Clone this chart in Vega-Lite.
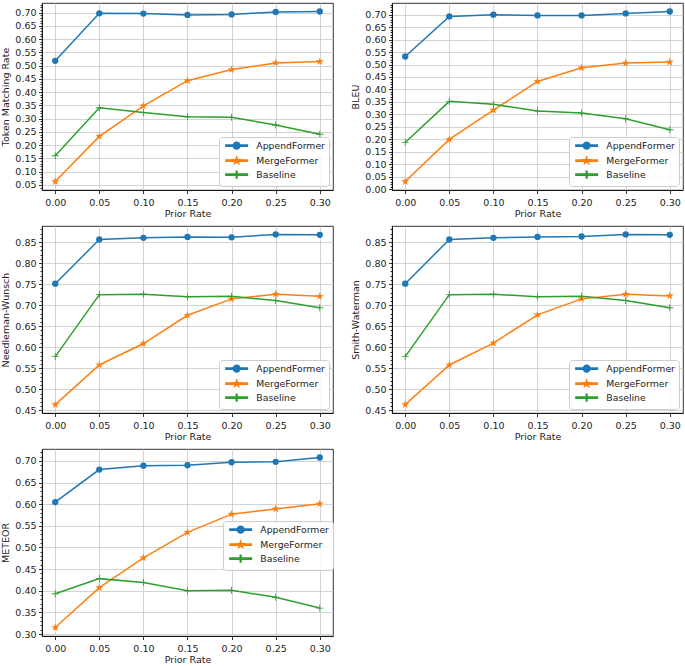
{
  "$schema": "https://vega.github.io/schema/vega-lite/v6.json",
  "padding": {"left": 0, "top": 2, "right": 0, "bottom": 0},
  "background": "white",
  "columns": 2,
  "spacing": {"row": 7, "column": 16},
  "config": {
    "font": "DejaVu Sans",
    "view": {"stroke": "#000", "strokeWidth": 0.8},
    "axis": {
      "labelFont": "DejaVu Sans", "labelFontSize": 9.5, "labelColor": "#222",
      "titleFont": "DejaVu Sans", "titleFontSize": 9.5, "titleFontWeight": "normal", "titleColor": "#222",
      "domainColor": "#000", "domainWidth": 0.8, "tickColor": "#000", "tickWidth": 0.8, "tickSize": 3.5,
      "gridColor": "#c8c8c8", "gridWidth": 0.8
    },
    "axisX": {"titlePadding": 1.5, "labelPadding": 3.5},
    "axisY": {"titlePadding": 4, "labelPadding": 2.5},
    "legend": {
      "orient": "bottom-right", "offset": 4, "title": null,
      "strokeColor": "#cccccc", "fillColor": "rgba(255,255,255,0.85)", "cornerRadius": 3,
      "padding": 4, "labelFont": "DejaVu Sans", "labelFontSize": 9.3, "labelColor": "#222",
      "symbolSize": 45, "rowPadding": 1, "symbolOffset": 9, "labelOffset": 15
    }
  },
  "resolve": {
    "scale": {"y": "independent", "color": "independent"},
    "axis": {"y": "independent", "x": "independent"},
    "legend": {"color": "independent"}
  },
  "data": {"values": [
    {"m": "Token Matching Rate", "s": "AppendFormer", "x": 0.00, "v": 0.518},
    {"m": "Token Matching Rate", "s": "AppendFormer", "x": 0.05, "v": 0.697},
    {"m": "Token Matching Rate", "s": "AppendFormer", "x": 0.10, "v": 0.696},
    {"m": "Token Matching Rate", "s": "AppendFormer", "x": 0.15, "v": 0.691},
    {"m": "Token Matching Rate", "s": "AppendFormer", "x": 0.20, "v": 0.693},
    {"m": "Token Matching Rate", "s": "AppendFormer", "x": 0.25, "v": 0.702},
    {"m": "Token Matching Rate", "s": "AppendFormer", "x": 0.30, "v": 0.704},
    {"m": "Token Matching Rate", "s": "MergeFormer", "x": 0.00, "v": 0.063},
    {"m": "Token Matching Rate", "s": "MergeFormer", "x": 0.05, "v": 0.233},
    {"m": "Token Matching Rate", "s": "MergeFormer", "x": 0.10, "v": 0.348},
    {"m": "Token Matching Rate", "s": "MergeFormer", "x": 0.15, "v": 0.443},
    {"m": "Token Matching Rate", "s": "MergeFormer", "x": 0.20, "v": 0.485},
    {"m": "Token Matching Rate", "s": "MergeFormer", "x": 0.25, "v": 0.510},
    {"m": "Token Matching Rate", "s": "MergeFormer", "x": 0.30, "v": 0.515},
    {"m": "Token Matching Rate", "s": "Baseline", "x": 0.00, "v": 0.160},
    {"m": "Token Matching Rate", "s": "Baseline", "x": 0.05, "v": 0.341},
    {"m": "Token Matching Rate", "s": "Baseline", "x": 0.10, "v": 0.323},
    {"m": "Token Matching Rate", "s": "Baseline", "x": 0.15, "v": 0.307},
    {"m": "Token Matching Rate", "s": "Baseline", "x": 0.20, "v": 0.305},
    {"m": "Token Matching Rate", "s": "Baseline", "x": 0.25, "v": 0.276},
    {"m": "Token Matching Rate", "s": "Baseline", "x": 0.30, "v": 0.241},

    {"m": "BLEU", "s": "AppendFormer", "x": 0.00, "v": 0.532},
    {"m": "BLEU", "s": "AppendFormer", "x": 0.05, "v": 0.693},
    {"m": "BLEU", "s": "AppendFormer", "x": 0.10, "v": 0.700},
    {"m": "BLEU", "s": "AppendFormer", "x": 0.15, "v": 0.697},
    {"m": "BLEU", "s": "AppendFormer", "x": 0.20, "v": 0.697},
    {"m": "BLEU", "s": "AppendFormer", "x": 0.25, "v": 0.705},
    {"m": "BLEU", "s": "AppendFormer", "x": 0.30, "v": 0.713},
    {"m": "BLEU", "s": "MergeFormer", "x": 0.00, "v": 0.030},
    {"m": "BLEU", "s": "MergeFormer", "x": 0.05, "v": 0.199},
    {"m": "BLEU", "s": "MergeFormer", "x": 0.10, "v": 0.317},
    {"m": "BLEU", "s": "MergeFormer", "x": 0.15, "v": 0.432},
    {"m": "BLEU", "s": "MergeFormer", "x": 0.20, "v": 0.487},
    {"m": "BLEU", "s": "MergeFormer", "x": 0.25, "v": 0.506},
    {"m": "BLEU", "s": "MergeFormer", "x": 0.30, "v": 0.510},
    {"m": "BLEU", "s": "Baseline", "x": 0.00, "v": 0.187},
    {"m": "BLEU", "s": "Baseline", "x": 0.05, "v": 0.352},
    {"m": "BLEU", "s": "Baseline", "x": 0.10, "v": 0.340},
    {"m": "BLEU", "s": "Baseline", "x": 0.15, "v": 0.313},
    {"m": "BLEU", "s": "Baseline", "x": 0.20, "v": 0.305},
    {"m": "BLEU", "s": "Baseline", "x": 0.25, "v": 0.282},
    {"m": "BLEU", "s": "Baseline", "x": 0.30, "v": 0.238},

    {"m": "Needleman-Wunsch", "s": "AppendFormer", "x": 0.00, "v": 0.751},
    {"m": "Needleman-Wunsch", "s": "AppendFormer", "x": 0.05, "v": 0.856},
    {"m": "Needleman-Wunsch", "s": "AppendFormer", "x": 0.10, "v": 0.860},
    {"m": "Needleman-Wunsch", "s": "AppendFormer", "x": 0.15, "v": 0.862},
    {"m": "Needleman-Wunsch", "s": "AppendFormer", "x": 0.20, "v": 0.861},
    {"m": "Needleman-Wunsch", "s": "AppendFormer", "x": 0.25, "v": 0.868},
    {"m": "Needleman-Wunsch", "s": "AppendFormer", "x": 0.30, "v": 0.867},
    {"m": "Needleman-Wunsch", "s": "MergeFormer", "x": 0.00, "v": 0.464},
    {"m": "Needleman-Wunsch", "s": "MergeFormer", "x": 0.05, "v": 0.558},
    {"m": "Needleman-Wunsch", "s": "MergeFormer", "x": 0.10, "v": 0.609},
    {"m": "Needleman-Wunsch", "s": "MergeFormer", "x": 0.15, "v": 0.676},
    {"m": "Needleman-Wunsch", "s": "MergeFormer", "x": 0.20, "v": 0.715},
    {"m": "Needleman-Wunsch", "s": "MergeFormer", "x": 0.25, "v": 0.726},
    {"m": "Needleman-Wunsch", "s": "MergeFormer", "x": 0.30, "v": 0.721},
    {"m": "Needleman-Wunsch", "s": "Baseline", "x": 0.00, "v": 0.578},
    {"m": "Needleman-Wunsch", "s": "Baseline", "x": 0.05, "v": 0.725},
    {"m": "Needleman-Wunsch", "s": "Baseline", "x": 0.10, "v": 0.726},
    {"m": "Needleman-Wunsch", "s": "Baseline", "x": 0.15, "v": 0.720},
    {"m": "Needleman-Wunsch", "s": "Baseline", "x": 0.20, "v": 0.721},
    {"m": "Needleman-Wunsch", "s": "Baseline", "x": 0.25, "v": 0.711},
    {"m": "Needleman-Wunsch", "s": "Baseline", "x": 0.30, "v": 0.694},

    {"m": "Smith-Waterman", "s": "AppendFormer", "x": 0.00, "v": 0.751},
    {"m": "Smith-Waterman", "s": "AppendFormer", "x": 0.05, "v": 0.856},
    {"m": "Smith-Waterman", "s": "AppendFormer", "x": 0.10, "v": 0.860},
    {"m": "Smith-Waterman", "s": "AppendFormer", "x": 0.15, "v": 0.862},
    {"m": "Smith-Waterman", "s": "AppendFormer", "x": 0.20, "v": 0.863},
    {"m": "Smith-Waterman", "s": "AppendFormer", "x": 0.25, "v": 0.868},
    {"m": "Smith-Waterman", "s": "AppendFormer", "x": 0.30, "v": 0.867},
    {"m": "Smith-Waterman", "s": "MergeFormer", "x": 0.00, "v": 0.464},
    {"m": "Smith-Waterman", "s": "MergeFormer", "x": 0.05, "v": 0.558},
    {"m": "Smith-Waterman", "s": "MergeFormer", "x": 0.10, "v": 0.610},
    {"m": "Smith-Waterman", "s": "MergeFormer", "x": 0.15, "v": 0.677},
    {"m": "Smith-Waterman", "s": "MergeFormer", "x": 0.20, "v": 0.715},
    {"m": "Smith-Waterman", "s": "MergeFormer", "x": 0.25, "v": 0.726},
    {"m": "Smith-Waterman", "s": "MergeFormer", "x": 0.30, "v": 0.722},
    {"m": "Smith-Waterman", "s": "Baseline", "x": 0.00, "v": 0.578},
    {"m": "Smith-Waterman", "s": "Baseline", "x": 0.05, "v": 0.725},
    {"m": "Smith-Waterman", "s": "Baseline", "x": 0.10, "v": 0.726},
    {"m": "Smith-Waterman", "s": "Baseline", "x": 0.15, "v": 0.720},
    {"m": "Smith-Waterman", "s": "Baseline", "x": 0.20, "v": 0.721},
    {"m": "Smith-Waterman", "s": "Baseline", "x": 0.25, "v": 0.711},
    {"m": "Smith-Waterman", "s": "Baseline", "x": 0.30, "v": 0.694},

    {"m": "METEOR", "s": "AppendFormer", "x": 0.00, "v": 0.605},
    {"m": "METEOR", "s": "AppendFormer", "x": 0.05, "v": 0.680},
    {"m": "METEOR", "s": "AppendFormer", "x": 0.10, "v": 0.689},
    {"m": "METEOR", "s": "AppendFormer", "x": 0.15, "v": 0.690},
    {"m": "METEOR", "s": "AppendFormer", "x": 0.20, "v": 0.697},
    {"m": "METEOR", "s": "AppendFormer", "x": 0.25, "v": 0.698},
    {"m": "METEOR", "s": "AppendFormer", "x": 0.30, "v": 0.708},
    {"m": "METEOR", "s": "MergeFormer", "x": 0.00, "v": 0.315},
    {"m": "METEOR", "s": "MergeFormer", "x": 0.05, "v": 0.407},
    {"m": "METEOR", "s": "MergeFormer", "x": 0.10, "v": 0.476},
    {"m": "METEOR", "s": "MergeFormer", "x": 0.15, "v": 0.535},
    {"m": "METEOR", "s": "MergeFormer", "x": 0.20, "v": 0.577},
    {"m": "METEOR", "s": "MergeFormer", "x": 0.25, "v": 0.589},
    {"m": "METEOR", "s": "MergeFormer", "x": 0.30, "v": 0.601},
    {"m": "METEOR", "s": "Baseline", "x": 0.00, "v": 0.393},
    {"m": "METEOR", "s": "Baseline", "x": 0.05, "v": 0.428},
    {"m": "METEOR", "s": "Baseline", "x": 0.10, "v": 0.419},
    {"m": "METEOR", "s": "Baseline", "x": 0.15, "v": 0.400},
    {"m": "METEOR", "s": "Baseline", "x": 0.20, "v": 0.401},
    {"m": "METEOR", "s": "Baseline", "x": 0.25, "v": 0.385},
    {"m": "METEOR", "s": "Baseline", "x": 0.30, "v": 0.360}
  ]},
  "concat": [
    {
      "width": 291, "height": 187,
      "transform": [{"filter": "datum.m === 'Token Matching Rate'"}],
      "encoding": {
        "x": {"field": "x", "type": "quantitative", "title": "Prior Rate", "scale": {"domain": [-0.015, 0.315], "nice": false, "zero": false}, "axis": {"values": [0, 0.05, 0.1, 0.15, 0.2, 0.25, 0.3], "format": ".2f"}},
        "y": {"field": "v", "type": "quantitative", "title": "Token Matching Rate", "scale": {"domain": [0.031, 0.736], "nice": false, "zero": false},
              "axis": {"tickCount": 70, "labelExpr": "abs(datum.value*20 - round(datum.value*20)) < 0.001 ? format(datum.value, '.2f') : ''",
                       "tickSize": {"condition": {"test": "abs(datum.value*20 - round(datum.value*20)) < 0.001", "value": 3.5}, "value": 2},
                       "gridOpacity": {"condition": {"test": "abs(datum.value*20 - round(datum.value*20)) < 0.001", "value": 1}, "value": 0}}},
        "color": {"field": "s", "type": "nominal", "scale": {"domain": ["AppendFormer", "MergeFormer", "Baseline"], "range": ["#1f77b4", "#ff7f0e", "#2ca02c"]},
                  "legend": {"encode": {"symbols": {"update": {"shape": {"signal": "datum.value === 'AppendFormer' ? 'M1,0A1,1,0,1,1,-1,0A1,1,0,1,1,1,0Z M-3.2,-0.21H3.2V0.21H-3.2Z' : datum.value === 'MergeFormer' ? 'M0,-1L0.235,-0.324L0.951,-0.309L0.38,0.124L0.588,0.809L0,0.4L-0.588,0.809L-0.38,0.124L-0.951,-0.309L-0.235,-0.324Z M-3.2,-0.21H3.2V0.21H-3.2Z' : 'M-1,-0.12H-0.12V-1H0.12V-0.12H1V0.12H0.12V1H-0.12V0.12H-1Z M-3.2,-0.21H3.2V0.21H-3.2Z'"}, "fill": {"signal": "datum.value === 'AppendFormer' ? '#1f77b4' : datum.value === 'MergeFormer' ? '#ff7f0e' : '#2ca02c'"}, "opacity": {"value": 1}}}}}}
      },
      "layer": [
        {"mark": {"type": "line", "strokeWidth": 1.5}},
        {"mark": {"type": "point", "filled": true, "opacity": 1},
         "encoding": {
           "shape": {"condition": [{"test": "datum.s === 'MergeFormer'", "value": "M0,-1L0.235,-0.324L0.951,-0.309L0.38,0.124L0.588,0.809L0,0.4L-0.588,0.809L-0.38,0.124L-0.951,-0.309L-0.235,-0.324Z"}, {"test": "datum.s === 'Baseline'", "value": "M-1,-0.12H-0.12V-1H0.12V-0.12H1V0.12H0.12V1H-0.12V0.12H-1Z"}], "value": "circle"},
           "size": {"condition": [{"test": "datum.s === 'MergeFormer'", "value": 70}, {"test": "datum.s === 'Baseline'", "value": 50}], "value": 40}
         }}
      ]
    },
    {
      "width": 291, "height": 187,
      "transform": [{"filter": "datum.m === 'BLEU'"}],
      "encoding": {
        "x": {"field": "x", "type": "quantitative", "title": "Prior Rate", "scale": {"domain": [-0.015, 0.315], "nice": false, "zero": false}, "axis": {"values": [0, 0.05, 0.1, 0.15, 0.2, 0.25, 0.3], "format": ".2f"}},
        "y": {"field": "v", "type": "quantitative", "title": "BLEU", "scale": {"domain": [-0.004, 0.747], "nice": false, "zero": false},
              "axis": {"tickCount": 75, "labelExpr": "abs(datum.value*20 - round(datum.value*20)) < 0.001 ? format(datum.value, '.2f') : ''",
                       "tickSize": {"condition": {"test": "abs(datum.value*20 - round(datum.value*20)) < 0.001", "value": 3.5}, "value": 2},
                       "gridOpacity": {"condition": {"test": "abs(datum.value*20 - round(datum.value*20)) < 0.001", "value": 1}, "value": 0}}},
        "color": {"field": "s", "type": "nominal", "scale": {"domain": ["AppendFormer", "MergeFormer", "Baseline"], "range": ["#1f77b4", "#ff7f0e", "#2ca02c"]},
                  "legend": {"encode": {"symbols": {"update": {"shape": {"signal": "datum.value === 'AppendFormer' ? 'M1,0A1,1,0,1,1,-1,0A1,1,0,1,1,1,0Z M-3.2,-0.21H3.2V0.21H-3.2Z' : datum.value === 'MergeFormer' ? 'M0,-1L0.235,-0.324L0.951,-0.309L0.38,0.124L0.588,0.809L0,0.4L-0.588,0.809L-0.38,0.124L-0.951,-0.309L-0.235,-0.324Z M-3.2,-0.21H3.2V0.21H-3.2Z' : 'M-1,-0.12H-0.12V-1H0.12V-0.12H1V0.12H0.12V1H-0.12V0.12H-1Z M-3.2,-0.21H3.2V0.21H-3.2Z'"}, "fill": {"signal": "datum.value === 'AppendFormer' ? '#1f77b4' : datum.value === 'MergeFormer' ? '#ff7f0e' : '#2ca02c'"}, "opacity": {"value": 1}}}}}}
      },
      "layer": [
        {"mark": {"type": "line", "strokeWidth": 1.5}},
        {"mark": {"type": "point", "filled": true, "opacity": 1},
         "encoding": {
           "shape": {"condition": [{"test": "datum.s === 'MergeFormer'", "value": "M0,-1L0.235,-0.324L0.951,-0.309L0.38,0.124L0.588,0.809L0,0.4L-0.588,0.809L-0.38,0.124L-0.951,-0.309L-0.235,-0.324Z"}, {"test": "datum.s === 'Baseline'", "value": "M-1,-0.12H-0.12V-1H0.12V-0.12H1V0.12H0.12V1H-0.12V0.12H-1Z"}], "value": "circle"},
           "size": {"condition": [{"test": "datum.s === 'MergeFormer'", "value": 70}, {"test": "datum.s === 'Baseline'", "value": 50}], "value": 40}
         }}
      ]
    },
    {
      "width": 291, "height": 187,
      "transform": [{"filter": "datum.m === 'Needleman-Wunsch'"}],
      "encoding": {
        "x": {"field": "x", "type": "quantitative", "title": "Prior Rate", "scale": {"domain": [-0.015, 0.315], "nice": false, "zero": false}, "axis": {"values": [0, 0.05, 0.1, 0.15, 0.2, 0.25, 0.3], "format": ".2f"}},
        "y": {"field": "v", "type": "quantitative", "title": "Needleman-Wunsch", "scale": {"domain": [0.444, 0.888], "nice": false, "zero": false},
              "axis": {"tickCount": 44, "labelExpr": "abs(datum.value*20 - round(datum.value*20)) < 0.001 ? format(datum.value, '.2f') : ''",
                       "tickSize": {"condition": {"test": "abs(datum.value*20 - round(datum.value*20)) < 0.001", "value": 3.5}, "value": 2},
                       "gridOpacity": {"condition": {"test": "abs(datum.value*20 - round(datum.value*20)) < 0.001", "value": 1}, "value": 0}}},
        "color": {"field": "s", "type": "nominal", "scale": {"domain": ["AppendFormer", "MergeFormer", "Baseline"], "range": ["#1f77b4", "#ff7f0e", "#2ca02c"]},
                  "legend": {"encode": {"symbols": {"update": {"shape": {"signal": "datum.value === 'AppendFormer' ? 'M1,0A1,1,0,1,1,-1,0A1,1,0,1,1,1,0Z M-3.2,-0.21H3.2V0.21H-3.2Z' : datum.value === 'MergeFormer' ? 'M0,-1L0.235,-0.324L0.951,-0.309L0.38,0.124L0.588,0.809L0,0.4L-0.588,0.809L-0.38,0.124L-0.951,-0.309L-0.235,-0.324Z M-3.2,-0.21H3.2V0.21H-3.2Z' : 'M-1,-0.12H-0.12V-1H0.12V-0.12H1V0.12H0.12V1H-0.12V0.12H-1Z M-3.2,-0.21H3.2V0.21H-3.2Z'"}, "fill": {"signal": "datum.value === 'AppendFormer' ? '#1f77b4' : datum.value === 'MergeFormer' ? '#ff7f0e' : '#2ca02c'"}, "opacity": {"value": 1}}}}}}
      },
      "layer": [
        {"mark": {"type": "line", "strokeWidth": 1.5}},
        {"mark": {"type": "point", "filled": true, "opacity": 1},
         "encoding": {
           "shape": {"condition": [{"test": "datum.s === 'MergeFormer'", "value": "M0,-1L0.235,-0.324L0.951,-0.309L0.38,0.124L0.588,0.809L0,0.4L-0.588,0.809L-0.38,0.124L-0.951,-0.309L-0.235,-0.324Z"}, {"test": "datum.s === 'Baseline'", "value": "M-1,-0.12H-0.12V-1H0.12V-0.12H1V0.12H0.12V1H-0.12V0.12H-1Z"}], "value": "circle"},
           "size": {"condition": [{"test": "datum.s === 'MergeFormer'", "value": 70}, {"test": "datum.s === 'Baseline'", "value": 50}], "value": 40}
         }}
      ]
    },
    {
      "width": 291, "height": 187,
      "transform": [{"filter": "datum.m === 'Smith-Waterman'"}],
      "encoding": {
        "x": {"field": "x", "type": "quantitative", "title": "Prior Rate", "scale": {"domain": [-0.015, 0.315], "nice": false, "zero": false}, "axis": {"values": [0, 0.05, 0.1, 0.15, 0.2, 0.25, 0.3], "format": ".2f"}},
        "y": {"field": "v", "type": "quantitative", "title": "Smith-Waterman", "scale": {"domain": [0.444, 0.888], "nice": false, "zero": false},
              "axis": {"tickCount": 44, "labelExpr": "abs(datum.value*20 - round(datum.value*20)) < 0.001 ? format(datum.value, '.2f') : ''",
                       "tickSize": {"condition": {"test": "abs(datum.value*20 - round(datum.value*20)) < 0.001", "value": 3.5}, "value": 2},
                       "gridOpacity": {"condition": {"test": "abs(datum.value*20 - round(datum.value*20)) < 0.001", "value": 1}, "value": 0}}},
        "color": {"field": "s", "type": "nominal", "scale": {"domain": ["AppendFormer", "MergeFormer", "Baseline"], "range": ["#1f77b4", "#ff7f0e", "#2ca02c"]},
                  "legend": {"encode": {"symbols": {"update": {"shape": {"signal": "datum.value === 'AppendFormer' ? 'M1,0A1,1,0,1,1,-1,0A1,1,0,1,1,1,0Z M-3.2,-0.21H3.2V0.21H-3.2Z' : datum.value === 'MergeFormer' ? 'M0,-1L0.235,-0.324L0.951,-0.309L0.38,0.124L0.588,0.809L0,0.4L-0.588,0.809L-0.38,0.124L-0.951,-0.309L-0.235,-0.324Z M-3.2,-0.21H3.2V0.21H-3.2Z' : 'M-1,-0.12H-0.12V-1H0.12V-0.12H1V0.12H0.12V1H-0.12V0.12H-1Z M-3.2,-0.21H3.2V0.21H-3.2Z'"}, "fill": {"signal": "datum.value === 'AppendFormer' ? '#1f77b4' : datum.value === 'MergeFormer' ? '#ff7f0e' : '#2ca02c'"}, "opacity": {"value": 1}}}}}}
      },
      "layer": [
        {"mark": {"type": "line", "strokeWidth": 1.5}},
        {"mark": {"type": "point", "filled": true, "opacity": 1},
         "encoding": {
           "shape": {"condition": [{"test": "datum.s === 'MergeFormer'", "value": "M0,-1L0.235,-0.324L0.951,-0.309L0.38,0.124L0.588,0.809L0,0.4L-0.588,0.809L-0.38,0.124L-0.951,-0.309L-0.235,-0.324Z"}, {"test": "datum.s === 'Baseline'", "value": "M-1,-0.12H-0.12V-1H0.12V-0.12H1V0.12H0.12V1H-0.12V0.12H-1Z"}], "value": "circle"},
           "size": {"condition": [{"test": "datum.s === 'MergeFormer'", "value": 70}, {"test": "datum.s === 'Baseline'", "value": 50}], "value": 40}
         }}
      ]
    },
    {
      "width": 291, "height": 187,
      "transform": [{"filter": "datum.m === 'METEOR'"}],
      "encoding": {
        "x": {"field": "x", "type": "quantitative", "title": "Prior Rate", "scale": {"domain": [-0.015, 0.315], "nice": false, "zero": false}, "axis": {"values": [0, 0.05, 0.1, 0.15, 0.2, 0.25, 0.3], "format": ".2f"}},
        "y": {"field": "v", "type": "quantitative", "title": "METEOR", "scale": {"domain": [0.2954, 0.7276], "nice": false, "zero": false},
              "axis": {"tickCount": 43, "labelExpr": "abs(datum.value*20 - round(datum.value*20)) < 0.001 ? format(datum.value, '.2f') : ''",
                       "tickSize": {"condition": {"test": "abs(datum.value*20 - round(datum.value*20)) < 0.001", "value": 3.5}, "value": 2},
                       "gridOpacity": {"condition": {"test": "abs(datum.value*20 - round(datum.value*20)) < 0.001", "value": 1}, "value": 0}}},
        "color": {"field": "s", "type": "nominal", "scale": {"domain": ["AppendFormer", "MergeFormer", "Baseline"], "range": ["#1f77b4", "#ff7f0e", "#2ca02c"]},
                  "legend": {"orient": "none", "legendX": 181, "legendY": 72, "encode": {"symbols": {"update": {"shape": {"signal": "datum.value === 'AppendFormer' ? 'M1,0A1,1,0,1,1,-1,0A1,1,0,1,1,1,0Z M-3.2,-0.21H3.2V0.21H-3.2Z' : datum.value === 'MergeFormer' ? 'M0,-1L0.235,-0.324L0.951,-0.309L0.38,0.124L0.588,0.809L0,0.4L-0.588,0.809L-0.38,0.124L-0.951,-0.309L-0.235,-0.324Z M-3.2,-0.21H3.2V0.21H-3.2Z' : 'M-1,-0.12H-0.12V-1H0.12V-0.12H1V0.12H0.12V1H-0.12V0.12H-1Z M-3.2,-0.21H3.2V0.21H-3.2Z'"}, "fill": {"signal": "datum.value === 'AppendFormer' ? '#1f77b4' : datum.value === 'MergeFormer' ? '#ff7f0e' : '#2ca02c'"}, "opacity": {"value": 1}}}}}}
      },
      "layer": [
        {"mark": {"type": "line", "strokeWidth": 1.5}},
        {"mark": {"type": "point", "filled": true, "opacity": 1},
         "encoding": {
           "shape": {"condition": [{"test": "datum.s === 'MergeFormer'", "value": "M0,-1L0.235,-0.324L0.951,-0.309L0.38,0.124L0.588,0.809L0,0.4L-0.588,0.809L-0.38,0.124L-0.951,-0.309L-0.235,-0.324Z"}, {"test": "datum.s === 'Baseline'", "value": "M-1,-0.12H-0.12V-1H0.12V-0.12H1V0.12H0.12V1H-0.12V0.12H-1Z"}], "value": "circle"},
           "size": {"condition": [{"test": "datum.s === 'MergeFormer'", "value": 70}, {"test": "datum.s === 'Baseline'", "value": 50}], "value": 40}
         }}
      ]
    }
  ]
}
